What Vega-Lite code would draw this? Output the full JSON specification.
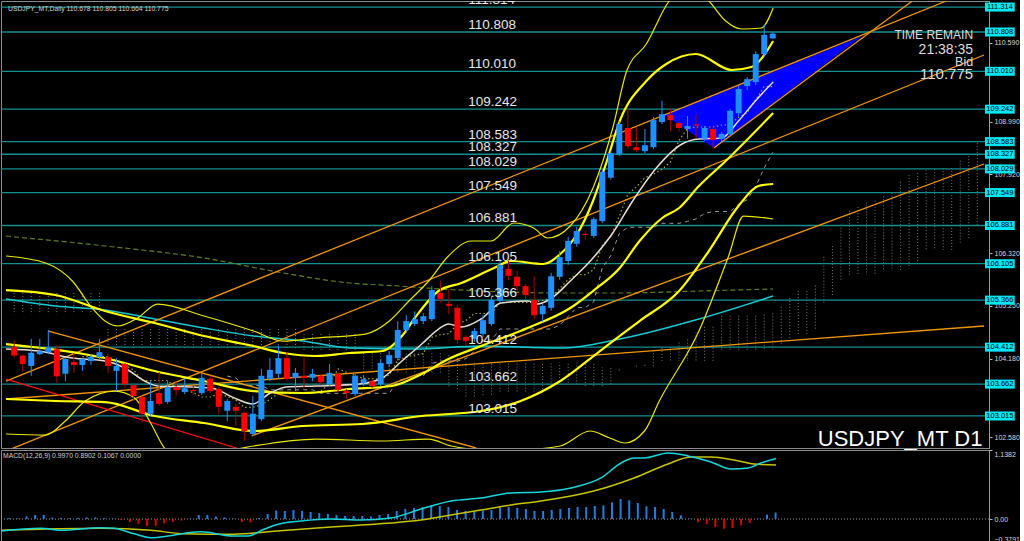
{
"$schema": "https://vega.github.io/schema/vega-lite/v6.json",
"background": "#000000",
"padding": 0,
"spacing": 2,
"bounds": "flush",
"config": {
  "view": {"stroke": "#8c8c8c", "strokeWidth": 1},
  "axis": {"grid": false, "labelFont": "Liberation Sans", "labelFontSize": 7, "labelColor": "#d8d8d8", "tickColor": "#bbbbbb", "domainColor": "#9a9a9a", "tickSize": 3, "labelPadding": 2},
  "text": {"font": "Liberation Sans"}
},
"datasets": {
  "levels": [{"p":111.314},{"p":110.808},{"p":110.010},{"p":109.242},{"p":108.583},{"p":108.327},{"p":108.029},{"p":107.549},{"p":106.881},{"p":106.105},{"p":105.366},{"p":104.412},{"p":103.662},{"p":103.015}],
  "candles": [
{"i":0,"o":104.42,"h":104.55,"l":104.20,"c":104.24},
{"i":1,"o":104.24,"h":104.27,"l":103.91,"c":104.07},
{"i":2,"o":104.03,"h":104.58,"l":103.83,"c":104.30},
{"i":3,"o":104.27,"h":104.58,"l":104.25,"c":104.33},
{"i":4,"o":104.31,"h":104.76,"l":104.27,"c":104.40},
{"i":5,"o":104.37,"h":104.45,"l":103.68,"c":103.82},
{"i":6,"o":103.87,"h":104.20,"l":103.72,"c":104.17},
{"i":7,"o":104.11,"h":104.29,"l":103.89,"c":104.05},
{"i":8,"o":104.05,"h":104.19,"l":103.93,"c":104.17},
{"i":9,"o":104.13,"h":104.27,"l":104.05,"c":104.21},
{"i":10,"o":104.21,"h":104.58,"l":104.17,"c":104.31},
{"i":11,"o":104.21,"h":104.28,"l":103.89,"c":104.03},
{"i":12,"o":103.93,"h":104.19,"l":103.52,"c":104.03},
{"i":13,"o":104.07,"h":104.09,"l":103.58,"c":103.66},
{"i":14,"o":103.64,"h":103.66,"l":103.32,"c":103.42},
{"i":15,"o":103.40,"h":103.42,"l":102.89,"c":103.06},
{"i":16,"o":103.06,"h":103.72,"l":103.02,"c":103.32},
{"i":17,"o":103.48,"h":103.91,"l":103.22,"c":103.26},
{"i":18,"o":103.30,"h":103.72,"l":103.26,"c":103.60},
{"i":19,"o":103.60,"h":103.72,"l":103.42,"c":103.54},
{"i":20,"o":103.50,"h":103.78,"l":103.46,"c":103.58},
{"i":21,"o":103.54,"h":103.62,"l":103.44,"c":103.52},
{"i":22,"o":103.48,"h":103.87,"l":103.44,"c":103.79},
{"i":23,"o":103.77,"h":103.83,"l":103.48,"c":103.52},
{"i":24,"o":103.56,"h":103.60,"l":103.06,"c":103.20},
{"i":25,"o":103.12,"h":103.36,"l":102.91,"c":103.32},
{"i":26,"o":103.20,"h":103.26,"l":102.81,"c":103.12},
{"i":27,"o":103.08,"h":103.10,"l":102.51,"c":102.71},
{"i":28,"o":102.65,"h":103.42,"l":102.61,"c":103.06},
{"i":29,"o":102.95,"h":103.97,"l":102.91,"c":103.83},
{"i":30,"o":103.77,"h":104.19,"l":103.72,"c":103.95},
{"i":31,"o":103.87,"h":104.44,"l":103.78,"c":104.19},
{"i":32,"o":104.19,"h":104.31,"l":103.72,"c":103.77},
{"i":33,"o":103.79,"h":103.99,"l":103.52,"c":103.89},
{"i":34,"o":103.83,"h":104.19,"l":103.56,"c":103.79},
{"i":35,"o":103.79,"h":103.97,"l":103.72,"c":103.87},
{"i":36,"o":103.83,"h":103.87,"l":103.64,"c":103.70},
{"i":37,"o":103.66,"h":104.07,"l":103.62,"c":103.89},
{"i":38,"o":103.87,"h":103.91,"l":103.50,"c":103.54},
{"i":39,"o":103.52,"h":103.56,"l":103.36,"c":103.48},
{"i":40,"o":103.46,"h":103.87,"l":103.42,"c":103.83},
{"i":41,"o":103.68,"h":103.85,"l":103.62,"c":103.76},
{"i":42,"o":103.72,"h":103.78,"l":103.58,"c":103.62},
{"i":43,"o":103.66,"h":104.17,"l":103.62,"c":104.09},
{"i":44,"o":104.07,"h":104.33,"l":104.01,"c":104.25},
{"i":45,"o":104.19,"h":104.94,"l":104.15,"c":104.76},
{"i":46,"o":104.76,"h":105.06,"l":104.70,"c":104.94},
{"i":47,"o":104.88,"h":105.14,"l":104.84,"c":104.98},
{"i":48,"o":104.94,"h":105.10,"l":104.88,"c":105.04},
{"i":49,"o":104.98,"h":105.65,"l":104.94,"c":105.57},
{"i":50,"o":105.51,"h":105.75,"l":105.31,"c":105.39},
{"i":51,"o":105.29,"h":105.59,"l":105.08,"c":105.25},
{"i":52,"o":105.21,"h":105.27,"l":104.48,"c":104.56},
{"i":53,"o":104.62,"h":104.66,"l":104.44,"c":104.54},
{"i":54,"o":104.58,"h":104.80,"l":104.52,"c":104.74},
{"i":55,"o":104.68,"h":105.06,"l":104.62,"c":104.96},
{"i":56,"o":104.88,"h":105.45,"l":104.84,"c":105.37},
{"i":57,"o":105.35,"h":106.20,"l":105.31,"c":106.08},
{"i":58,"o":106.00,"h":106.16,"l":105.78,"c":105.86},
{"i":59,"o":105.84,"h":105.96,"l":105.55,"c":105.65},
{"i":60,"o":105.65,"h":105.69,"l":105.39,"c":105.47},
{"i":61,"o":105.37,"h":105.84,"l":104.98,"c":105.06},
{"i":62,"o":105.08,"h":105.29,"l":104.92,"c":105.25},
{"i":63,"o":105.21,"h":105.92,"l":105.15,"c":105.85},
{"i":64,"o":105.84,"h":106.36,"l":105.78,"c":106.24},
{"i":65,"o":106.16,"h":106.65,"l":106.08,"c":106.57},
{"i":66,"o":106.51,"h":106.85,"l":106.45,"c":106.77},
{"i":67,"o":106.71,"h":106.77,"l":106.59,"c":106.69},
{"i":68,"o":106.67,"h":107.05,"l":106.63,"c":107.01},
{"i":69,"o":106.97,"h":108.03,"l":106.93,"c":107.97},
{"i":70,"o":107.85,"h":108.39,"l":107.81,"c":108.35},
{"i":71,"o":108.33,"h":109.00,"l":108.29,"c":108.94},
{"i":72,"o":108.86,"h":109.25,"l":108.43,"c":108.49},
{"i":73,"o":108.47,"h":108.88,"l":108.37,"c":108.41},
{"i":74,"o":108.39,"h":108.84,"l":108.35,"c":108.51},
{"i":75,"o":108.47,"h":109.08,"l":108.43,"c":109.02},
{"i":76,"o":108.98,"h":109.41,"l":108.94,"c":109.14},
{"i":77,"o":109.12,"h":109.26,"l":108.80,"c":109.02},
{"i":78,"o":108.96,"h":109.00,"l":108.78,"c":108.86},
{"i":79,"o":108.84,"h":109.10,"l":108.64,"c":108.90},
{"i":80,"o":108.93,"h":109.14,"l":108.66,"c":108.91},
{"i":81,"o":108.64,"h":108.90,"l":108.60,"c":108.86},
{"i":82,"o":108.84,"h":108.88,"l":108.45,"c":108.62},
{"i":83,"o":108.64,"h":108.78,"l":108.58,"c":108.74},
{"i":84,"o":108.74,"h":109.25,"l":108.70,"c":109.21},
{"i":85,"o":109.16,"h":109.71,"l":109.10,"c":109.65},
{"i":86,"o":109.71,"h":109.89,"l":109.63,"c":109.85},
{"i":87,"o":109.79,"h":110.42,"l":109.73,"c":110.36},
{"i":88,"o":110.36,"h":110.95,"l":110.30,"c":110.75},
{"i":89,"o":110.678,"h":110.805,"l":110.664,"c":110.775}
  ],
  "cloud": [
{"i":0,"a":105.51,"b":105.08},{"i":1,"a":105.51,"b":105.08},{"i":2,"a":105.51,"b":105.08},{"i":3,"a":105.51,"b":105.08},{"i":4,"a":105.51,"b":105.08},{"i":5,"a":105.51,"b":105.08},{"i":6,"a":105.51,"b":105.08},{"i":7,"a":105.51,"b":105.08},{"i":8,"a":105.51,"b":105.08},{"i":9,"a":105.51,"b":105.08},{"i":10,"a":105.51,"b":105.08},
{"i":11,"a":104.78,"b":104.39},{"i":12,"a":104.78,"b":104.39},{"i":13,"a":104.78,"b":104.39},{"i":14,"a":104.78,"b":104.39},{"i":15,"a":104.78,"b":104.39},{"i":16,"a":104.78,"b":104.39},{"i":17,"a":104.78,"b":104.39},{"i":18,"a":104.78,"b":104.39},{"i":19,"a":104.78,"b":104.39},{"i":20,"a":104.78,"b":104.39},{"i":21,"a":104.78,"b":104.39},{"i":22,"a":104.78,"b":104.39},{"i":23,"a":104.78,"b":104.39},{"i":24,"a":104.78,"b":104.39},{"i":25,"a":104.78,"b":104.39},{"i":26,"a":104.78,"b":104.39},{"i":27,"a":104.78,"b":104.39},{"i":28,"a":104.78,"b":104.39},{"i":29,"a":104.78,"b":104.39},{"i":30,"a":104.78,"b":104.39},{"i":31,"a":104.78,"b":104.39},{"i":32,"a":104.78,"b":104.39},{"i":33,"a":104.78,"b":104.39},
{"i":34,"a":104.68,"b":104.33},{"i":35,"a":104.68,"b":104.33},{"i":36,"a":104.68,"b":104.33},{"i":37,"a":104.68,"b":104.33},{"i":38,"a":104.68,"b":104.33},{"i":39,"a":104.68,"b":104.33},{"i":40,"a":104.68,"b":104.33},
{"i":41,"a":103.9,"b":104.285},{"i":42,"a":103.9,"b":104.285},{"i":43,"a":103.9,"b":104.285},{"i":44,"a":103.9,"b":104.285},{"i":45,"a":103.9,"b":104.285},{"i":46,"a":103.9,"b":104.285},{"i":47,"a":103.9,"b":104.285},{"i":48,"a":103.9,"b":104.285},{"i":49,"a":103.9,"b":104.285},{"i":50,"a":103.9,"b":104.285},
{"i":51,"a":103.6175,"b":104.285},{"i":52,"a":103.5625,"b":104.245},{"i":53,"a":103.4125,"b":104.095},{"i":54,"a":103.4125,"b":104.095},{"i":55,"a":103.4375,"b":104.095},{"i":56,"a":103.4475,"b":104.095},{"i":57,"a":103.51,"b":104.095},{"i":58,"a":103.51,"b":104.095},{"i":59,"a":103.51,"b":104.095},{"i":60,"a":103.51,"b":104.095},{"i":61,"a":103.51,"b":104.095},{"i":62,"a":103.50,"b":104.095},{"i":63,"a":103.575,"b":104.095},{"i":64,"a":103.7225,"b":104.095},{"i":65,"a":103.6875,"b":104.095},{"i":66,"a":103.655,"b":104.095},{"i":67,"a":103.625,"b":104.095},{"i":68,"a":103.625,"b":104.095},
{"i":69,"a":103.62,"b":104.0},{"i":70,"a":103.66,"b":104.0},{"i":71,"a":103.9375,"b":104.0},{"i":72,"a":103.9975,"b":104.0},{"i":73,"a":104.0375,"b":104.0},{"i":74,"a":104.0525,"b":104.0},{"i":75,"a":104.3475,"b":104.0},{"i":76,"a":104.3975,"b":104.13},{"i":77,"a":104.4075,"b":104.13},
{"i":78,"a":104.505,"b":104.13},{"i":79,"a":104.565,"b":104.13},{"i":80,"a":104.71,"b":104.13},{"i":81,"a":104.825,"b":104.13},{"i":82,"a":104.825,"b":104.13},{"i":83,"a":105.05,"b":104.355},{"i":84,"a":105.05,"b":104.355},{"i":85,"a":105.05,"b":104.355},{"i":86,"a":105.05,"b":104.355},{"i":87,"a":105.05,"b":104.355},{"i":88,"a":105.07,"b":104.355},{"i":89,"a":105.095,"b":104.355},{"i":90,"a":105.23,"b":104.435},{"i":91,"a":105.41,"b":104.58},{"i":92,"a":105.55,"b":104.68},{"i":93,"a":105.55,"b":104.68},{"i":94,"a":105.66,"b":104.78},{"i":95,"a":106.2475,"b":105.27},{"i":96,"a":106.4625,"b":105.45},{"i":97,"a":106.8975,"b":105.755},{"i":98,"a":107.18,"b":105.88},{"i":99,"a":107.255,"b":105.88},{"i":100,"a":107.3475,"b":105.88},{"i":101,"a":107.3825,"b":105.88},{"i":102,"a":107.4725,"b":105.96},{"i":103,"a":107.5475,"b":105.96},{"i":104,"a":107.7675,"b":105.96},{"i":105,"a":107.9075,"b":106.01},{"i":106,"a":107.9475,"b":106.16},{"i":107,"a":108.0025,"b":106.385},{"i":108,"a":108.0225,"b":106.385},{"i":109,"a":108.0425,"b":106.385},{"i":110,"a":108.0475,"b":106.385},{"i":111,"a":108.1975,"b":106.535},{"i":112,"a":108.2875,"b":106.625},{"i":113,"a":108.5525,"b":106.89}
  ],
  "tenkan": [{"i":8,"p":104.22},{"i":9,"p":104.22},{"i":10,"p":104.22},{"i":11,"p":104.22},{"i":12,"p":104.14},{"i":13,"p":104.05},{"i":14,"p":103.95},{"i":15,"p":103.735},{"i":16,"p":103.735},{"i":17,"p":103.735},{"i":18,"p":103.735},{"i":19,"p":103.585},{"i":20,"p":103.54},{"i":21,"p":103.49},{"i":22,"p":103.40},{"i":23,"p":103.40},{"i":24,"p":103.465},{"i":25,"p":103.41},{"i":26,"p":103.34},{"i":27,"p":103.19},{"i":28,"p":103.19},{"i":29,"p":103.24},{"i":30,"p":103.35},{"i":31,"p":103.475},{"i":32,"p":103.475},{"i":33,"p":103.475},{"i":34,"p":103.475},{"i":35,"p":103.475},{"i":36,"p":103.525},{"i":37,"p":103.675},{"i":38,"p":103.97},{"i":39,"p":103.90},{"i":40,"p":103.835},{"i":41,"p":103.775},{"i":42,"p":103.775},{"i":43,"p":103.765},{"i":44,"p":103.845},{"i":45,"p":104.15},{"i":46,"p":104.21},{"i":47,"p":104.25},{"i":48,"p":104.28},{"i":49,"p":104.615},{"i":50,"p":104.665},{"i":51,"p":104.685},{"i":52,"p":104.88},{"i":53,"p":104.95},{"i":54,"p":105.095},{"i":55,"p":105.095},{"i":56,"p":105.095},{"i":57,"p":105.32},{"i":58,"p":105.32},{"i":59,"p":105.32},{"i":60,"p":105.32},{"i":61,"p":105.32},{"i":62,"p":105.36},{"i":63,"p":105.41},{"i":64,"p":105.60},{"i":65,"p":105.785},{"i":66,"p":105.885},{"i":67,"p":105.885},{"i":68,"p":105.985},{"i":69,"p":106.475},{"i":70,"p":106.655},{"i":71,"p":107.075},{"i":72,"p":107.515},{"i":73,"p":107.665},{"i":74,"p":107.85},{"i":75,"p":107.92},{"i":76,"p":108.02},{"i":77,"p":108.17},{"i":78,"p":108.61},{"i":79,"p":108.85},{"i":80,"p":108.88},{"i":81,"p":108.88},{"i":82,"p":108.88},{"i":83,"p":108.92},{"i":84,"p":108.93},{"i":85,"p":109.08},{"i":86,"p":109.17},{"i":87,"p":109.435},{"i":88,"p":109.70},{"i":89,"p":109.70}],
  "kijun": [{"i":25,"p":103.825},{"i":26,"p":103.785},{"i":27,"p":103.635},{"i":28,"p":103.635},{"i":29,"p":103.635},{"i":30,"p":103.545},{"i":31,"p":103.545},{"i":32,"p":103.545},{"i":33,"p":103.545},{"i":34,"p":103.545},{"i":35,"p":103.545},{"i":36,"p":103.475},{"i":37,"p":103.475},{"i":38,"p":103.475},{"i":39,"p":103.475},{"i":40,"p":103.475},{"i":41,"p":103.475},{"i":42,"p":103.475},{"i":43,"p":103.475},{"i":44,"p":103.475},{"i":45,"p":103.725},{"i":46,"p":103.785},{"i":47,"p":103.825},{"i":48,"p":103.825},{"i":49,"p":104.08},{"i":50,"p":104.13},{"i":51,"p":104.13},{"i":52,"p":104.13},{"i":53,"p":104.18},{"i":54,"p":104.33},{"i":55,"p":104.555},{"i":56,"p":104.555},{"i":57,"p":104.78},{"i":58,"p":104.78},{"i":59,"p":104.78},{"i":60,"p":104.78},{"i":61,"p":104.78},{"i":62,"p":104.78},{"i":63,"p":104.78},{"i":64,"p":104.86},{"i":65,"p":105.035},{"i":66,"p":105.215},{"i":67,"p":105.215},{"i":68,"p":105.335},{"i":69,"p":106.02},{"i":70,"p":106.27},{"i":71,"p":106.72},{"i":72,"p":106.845},{"i":73,"p":106.845},{"i":74,"p":106.845},{"i":75,"p":106.845},{"i":76,"p":106.925},{"i":77,"p":106.925},{"i":78,"p":106.925},{"i":79,"p":106.965},{"i":80,"p":107.015},{"i":81,"p":107.125},{"i":82,"p":107.165},{"i":83,"p":107.165},{"i":84,"p":107.165},{"i":85,"p":107.315},{"i":86,"p":107.405},{"i":87,"p":107.67},{"i":88,"p":108.05},{"i":89,"p":108.365}],
  "bbMid": [{"i":-0.96,"p":104.475},{"i":10.65,"p":104.191},{"i":16.46,"p":103.927},{"i":22.27,"p":103.724},{"i":28.07,"p":103.521},{"i":33.88,"p":103.481},{"i":39.34,"p":103.562},{"i":44.33,"p":103.623},{"i":47.82,"p":103.866},{"i":50.95,"p":104.171},{"i":54.78,"p":104.435},{"i":60.24,"p":104.800},{"i":65.24,"p":105.206},{"i":67.91,"p":105.551},{"i":71.05,"p":106.018},{"i":73.37,"p":106.566},{"i":76.03,"p":107.033},{"i":78.01,"p":107.236},{"i":80.34,"p":107.682},{"i":83.48,"p":108.190},{"i":89.05,"p":109.164}],
  "bbUp2": [{"i":-0.96,"p":105.571},{"i":4.84,"p":105.470},{"i":10.65,"p":105.145},{"i":16.46,"p":104.902},{"i":22.27,"p":104.638},{"i":28.07,"p":104.435},{"i":31.56,"p":104.293},{"i":35.39,"p":104.232},{"i":39.34,"p":104.293},{"i":43.17,"p":104.333},{"i":45.49,"p":104.638},{"i":47.00,"p":105.003},{"i":49.79,"p":105.551},{"i":52.46,"p":105.714},{"i":56.29,"p":106.018},{"i":58.27,"p":106.160},{"i":62.10,"p":106.099},{"i":64.08,"p":106.302},{"i":66.05,"p":106.708},{"i":67.91,"p":107.378},{"i":69.54,"p":108.190},{"i":71.05,"p":109.002},{"i":74.17,"p":109.813},{"i":76.50,"p":110.158},{"i":79.99,"p":110.361},{"i":84.17,"p":110.037},{"i":86.49,"p":110.098},{"i":89.05,"p":110.625}],
  "bbLo2": [{"i":-0.96,"p":103.359},{"i":4.84,"p":103.319},{"i":10.65,"p":103.298},{"i":16.46,"p":103.014},{"i":22.27,"p":102.872},{"i":28.07,"p":102.710},{"i":33.88,"p":102.811},{"i":40.85,"p":102.852},{"i":47.82,"p":103.014},{"i":54.78,"p":103.116},{"i":59.43,"p":103.319},{"i":64.08,"p":103.724},{"i":68.72,"p":104.333},{"i":73.37,"p":104.942},{"i":78.01,"p":105.551},{"i":81.50,"p":106.363},{"i":84.98,"p":107.276},{"i":87.31,"p":107.682},{"i":89.05,"p":107.723}],
  "bbUp3": [{"i":-0.96,"p":106.262},{"i":3.68,"p":106.119},{"i":6.82,"p":105.754},{"i":9.14,"p":105.206},{"i":10.65,"p":104.942},{"i":12.16,"p":104.841},{"i":14.48,"p":105.003},{"i":16.81,"p":105.287},{"i":22.27,"p":105.044},{"i":28.07,"p":104.739},{"i":31.56,"p":104.536},{"i":35.39,"p":104.597},{"i":41.20,"p":104.678},{"i":44.02,"p":104.942},{"i":46.31,"p":105.348},{"i":48.63,"p":105.754},{"i":50.95,"p":106.262},{"i":53.62,"p":106.566},{"i":55.94,"p":106.566},{"i":58.62,"p":106.931},{"i":60.94,"p":106.830},{"i":62.57,"p":106.627},{"i":65.24,"p":106.871},{"i":67.91,"p":107.642},{"i":70.23,"p":108.859},{"i":71.86,"p":110.016},{"i":74.17,"p":110.564},{"i":76.85,"p":111.437},{"i":79.18,"p":111.741},{"i":81.50,"p":111.437},{"i":83.48,"p":111.031},{"i":85.33,"p":110.869},{"i":87.66,"p":110.889},{"i":89.05,"p":111.295}],
  "bbLo3": [{"i":-0.96,"p":102.649},{"i":3.68,"p":102.628},{"i":6.00,"p":102.913},{"i":8.33,"p":103.319},{"i":11.81,"p":103.521},{"i":14.13,"p":103.380},{"i":15.88,"p":102.913},{"i":17.62,"p":102.365},{"i":19.36,"p":102.101},{"i":22.27,"p":102.202},{"i":28.07,"p":102.405},{"i":35.39,"p":102.547},{"i":43.17,"p":102.507},{"i":48.63,"p":102.547},{"i":51.30,"p":102.405},{"i":57.11,"p":102.304},{"i":64.08,"p":102.405},{"i":67.56,"p":102.710},{"i":69.88,"p":102.568},{"i":71.63,"p":102.466},{"i":73.95,"p":102.710},{"i":75.69,"p":103.319},{"i":80.34,"p":104.739},{"i":83.82,"p":106.262},{"i":85.56,"p":107.073},{"i":89.05,"p":107.012}],
  "white": [{"i":-0.96,"p":104.374},{"i":2.87,"p":104.333},{"i":6.82,"p":104.191},{"i":10.65,"p":104.131},{"i":12.97,"p":103.988},{"i":15.30,"p":103.724},{"i":16.81,"p":103.623},{"i":20.76,"p":103.603},{"i":23.08,"p":103.582},{"i":26.10,"p":103.359},{"i":27.96,"p":103.258},{"i":30.05,"p":103.481},{"i":31.91,"p":103.603},{"i":35.39,"p":103.623},{"i":40.50,"p":103.663},{"i":43.17,"p":103.785},{"i":45.49,"p":104.131},{"i":47.82,"p":104.475},{"i":49.79,"p":104.780},{"i":50.95,"p":104.881},{"i":52.46,"p":104.820},{"i":54.78,"p":104.983},{"i":57.11,"p":105.308},{"i":60.24,"p":105.348},{"i":61.41,"p":105.287},{"i":62.91,"p":105.389},{"i":65.24,"p":105.754},{"i":67.91,"p":106.221},{"i":70.23,"p":106.728},{"i":72.56,"p":107.378},{"i":75.34,"p":108.048},{"i":78.36,"p":108.535},{"i":80.34,"p":108.636},{"i":83.01,"p":108.656},{"i":84.98,"p":109.002},{"i":86.96,"p":109.407},{"i":89.05,"p":109.793}],
  "cyanMA": [{"i":-0.96,"p":105.389},{"i":4.84,"p":105.247},{"i":10.65,"p":105.166},{"i":16.46,"p":104.983},{"i":22.27,"p":104.800},{"i":28.07,"p":104.638},{"i":33.88,"p":104.536},{"i":39.34,"p":104.394},{"i":47.00,"p":104.374},{"i":54.78,"p":104.435},{"i":64.08,"p":104.394},{"i":71.05,"p":104.577},{"i":80.34,"p":104.983},{"i":89.05,"p":105.450}],
  "greenMA": [{"i":-0.96,"p":106.667},{"i":10.65,"p":106.465},{"i":22.27,"p":106.221},{"i":31.56,"p":105.917},{"i":39.34,"p":105.714},{"i":45.15,"p":105.653},{"i":50.14,"p":105.592},{"i":54.78,"p":105.551},{"i":64.08,"p":105.511},{"i":71.05,"p":105.511},{"i":80.34,"p":105.551},{"i":89.05,"p":105.592}],
  "trend": [{"g":"a","i":-0.96,"p":103.724},{"g":"a","i":109.37,"p":111.437},{"g":"c","i":-0.96,"p":102.304},{"g":"c","i":113.79,"p":110.341},{"g":"d","i":27.84,"p":102.609},{"g":"d","i":113.79,"p":108.129},{"g":"e","i":-0.96,"p":103.359},{"g":"e","i":113.79,"p":104.841},{"g":"f","i":4.03,"p":104.739},{"g":"f","i":54.21,"p":102.365},{"g":"g","i":82.08,"p":108.453},{"g":"g","i":105.37,"p":111.437}],
  "redTrend": [{"i":-0.96,"p":103.765},{"i":26.10,"p":102.365}],
  "tri": [{"i":76.27,"p":109.123,"p2":109.123},{"i":82.08,"p":109.529,"p2":108.453},{"i":99.50,"p":110.727,"p2":110.727}],
  "zero": [{"v":0}],
  "macd": [{"i":-0.96,"v":-0.198},{"i":3.68,"v":-0.153},{"i":6.00,"v":-0.186},{"i":10.65,"v":-0.144},{"i":12.16,"v":-0.153},{"i":14.48,"v":-0.243},{"i":16.46,"v":-0.309},{"i":18.43,"v":-0.281},{"i":20.76,"v":-0.226},{"i":22.27,"v":-0.210},{"i":26.10,"v":-0.281},{"i":27.72,"v":-0.281},{"i":29.58,"v":-0.170},{"i":31.21,"v":-0.087},{"i":33.88,"v":-0.033},{"i":37.36,"v":0.0},{"i":40.85,"v":-0.017},{"i":44.33,"v":0.017},{"i":47.82,"v":0.165},{"i":51.30,"v":0.297},{"i":54.78,"v":0.347},{"i":58.27,"v":0.429},{"i":61.75,"v":0.446},{"i":65.24,"v":0.512},{"i":68.72,"v":0.677},{"i":71.05,"v":0.924},{"i":72.56,"v":1.007},{"i":73.72,"v":1.007},{"i":76.50,"v":1.089},{"i":78.83,"v":1.040},{"i":81.50,"v":0.941},{"i":83.82,"v":0.825},{"i":85.80,"v":0.842},{"i":87.31,"v":0.924},{"i":89.05,"v":0.997}],
  "signal": [{"i":-0.96,"v":-0.186},{"i":10.65,"v":-0.153},{"i":16.46,"v":-0.186},{"i":20.29,"v":-0.243},{"i":26.10,"v":-0.252},{"i":30.05,"v":-0.210},{"i":33.88,"v":-0.170},{"i":37.36,"v":-0.132},{"i":40.85,"v":-0.099},{"i":44.33,"v":-0.066},{"i":47.82,"v":-0.017},{"i":51.30,"v":0.066},{"i":54.78,"v":0.149},{"i":58.27,"v":0.231},{"i":61.75,"v":0.297},{"i":65.24,"v":0.380},{"i":68.72,"v":0.495},{"i":72.56,"v":0.677},{"i":76.50,"v":0.908},{"i":79.18,"v":1.023},{"i":81.50,"v":1.023},{"i":84.17,"v":0.974},{"i":86.49,"v":0.908},{"i":89.05,"v":0.890}],
  "hist": [{"i":0,"v":0.017},{"i":1,"v":0.008},{"i":2,"v":0.045},{"i":3,"v":0.066},{"i":4,"v":0.066},{"i":5,"v":0.025},{"i":6,"v":0.017},{"i":7,"v":0.013},{"i":8,"v":0.017},{"i":9,"v":0.025},{"i":10,"v":0.025},{"i":11,"v":0.017},{"i":12,"v":0.008},{"i":13,"v":-0.017},{"i":14,"v":-0.05},{"i":15,"v":-0.083},{"i":16,"v":-0.116},{"i":17,"v":-0.116},{"i":18,"v":-0.074},{"i":19,"v":-0.05},{"i":20,"v":-0.025},{"i":21,"v":0.008},{"i":22,"v":0.066},{"i":23,"v":0.066},{"i":24,"v":0.041},{"i":25,"v":0.025},{"i":26,"v":0.008},{"i":27,"v":-0.05},{"i":28,"v":-0.058},{"i":29,"v":0.017},{"i":30,"v":0.083},{"i":31,"v":0.14},{"i":32,"v":0.132},{"i":33,"v":0.149},{"i":34,"v":0.132},{"i":35,"v":0.116},{"i":36,"v":0.099},{"i":37,"v":0.083},{"i":38,"v":0.066},{"i":39,"v":0.05},{"i":40,"v":0.05},{"i":41,"v":0.05},{"i":42,"v":0.041},{"i":43,"v":0.066},{"i":44,"v":0.083},{"i":45,"v":0.132},{"i":46,"v":0.165},{"i":47,"v":0.182},{"i":48,"v":0.198},{"i":49,"v":0.231},{"i":50,"v":0.215},{"i":51,"v":0.198},{"i":52,"v":0.149},{"i":53,"v":0.132},{"i":54,"v":0.132},{"i":55,"v":0.132},{"i":56,"v":0.149},{"i":57,"v":0.198},{"i":58,"v":0.198},{"i":59,"v":0.182},{"i":60,"v":0.165},{"i":61,"v":0.132},{"i":62,"v":0.132},{"i":63,"v":0.149},{"i":64,"v":0.165},{"i":65,"v":0.182},{"i":66,"v":0.198},{"i":67,"v":0.198},{"i":68,"v":0.215},{"i":69,"v":0.226},{"i":70,"v":0.276},{"i":71,"v":0.330},{"i":72,"v":0.309},{"i":73,"v":0.264},{"i":74,"v":0.210},{"i":75,"v":0.198},{"i":76,"v":0.165},{"i":77,"v":0.116},{"i":78,"v":0.061},{"i":79,"v":0.008},{"i":80,"v":-0.05},{"i":81,"v":-0.083},{"i":82,"v":-0.132},{"i":83,"v":-0.160},{"i":84,"v":-0.149},{"i":85,"v":-0.104},{"i":86,"v":-0.066},{"i":87,"v":0.008},{"i":88,"v":0.071},{"i":89,"v":0.1067}]
},
"vconcat": [
{
  "width": 988, "height": 447,
  "layer": [
    {"data": {"name": "cloud"}, "mark": {"type": "rule", "color": "#7a7a7a", "strokeWidth": 1, "strokeDash": [1, 2], "clip": true},
     "encoding": {"x": {"field": "i", "type": "quantitative", "title": null, "scale": {"domain": [-0.964, 113.786], "nice": false, "zero": false}, "axis": null},
       "y": {"field": "a", "type": "quantitative", "title": null, "scale": {"domain": [102.365, 111.437], "nice": false, "zero": false},
         "axis": {"orient": "right", "title": null, "values": [111.12,110.59,109.52,108.99,108.45,107.92,107.39,106.32,105.78,105.25,104.72,104.18,103.11,102.58], "format": ".3f", "labelColor": "#d8d8d8", "labelFontSize": 7}},
       "y2": {"field": "b"}}},
    {"data": {"name": "levels"}, "mark": {"type": "rule", "color": "#138f8f", "strokeWidth": 1.3, "clip": true},
     "encoding": {"y": {"field": "p", "type": "quantitative", "title": null}}},
    {"data": {"name": "tri"}, "mark": {"type": "area", "color": "#0000ff", "opacity": 1, "clip": true},
     "encoding": {"x": {"field": "i", "type": "quantitative", "title": null}, "y": {"field": "p", "type": "quantitative", "title": null}, "y2": {"field": "p2"}}},
    {"data": {"name": "greenMA"}, "mark": {"type": "line", "color": "#5f7f1f", "strokeWidth": 1.2, "strokeDash": [5, 3], "interpolate": "monotone", "clip": true},
     "encoding": {"x": {"field": "i", "type": "quantitative", "title": null}, "y": {"field": "p", "type": "quantitative", "title": null}}},
    {"data": {"name": "kijun"}, "mark": {"type": "line", "color": "#9a9a9a", "strokeWidth": 1, "strokeDash": [4, 4], "clip": true},
     "encoding": {"x": {"field": "i", "type": "quantitative", "title": null}, "y": {"field": "p", "type": "quantitative", "title": null}}},
    {"data": {"name": "tenkan"}, "mark": {"type": "line", "color": "#a8a830", "strokeWidth": 1.2, "strokeDash": [1.5, 2.5], "clip": true},
     "encoding": {"x": {"field": "i", "type": "quantitative", "title": null}, "y": {"field": "p", "type": "quantitative", "title": null}}},
    {"data": {"name": "cyanMA"}, "mark": {"type": "line", "color": "#19c8d2", "strokeWidth": 1.5, "interpolate": "monotone", "clip": true},
     "encoding": {"x": {"field": "i", "type": "quantitative", "title": null}, "y": {"field": "p", "type": "quantitative", "title": null}}},
    {"data": {"name": "trend"}, "mark": {"type": "line", "color": "#f0960a", "strokeWidth": 1.3, "clip": true},
     "encoding": {"x": {"field": "i", "type": "quantitative", "title": null}, "y": {"field": "p", "type": "quantitative", "title": null}, "detail": {"field": "g"}}},
    {"data": {"name": "redTrend"}, "mark": {"type": "line", "color": "#ff1010", "strokeWidth": 1.3, "clip": true},
     "encoding": {"x": {"field": "i", "type": "quantitative", "title": null}, "y": {"field": "p", "type": "quantitative", "title": null}}},
    {"data": {"name": "bbUp3"}, "mark": {"type": "line", "color": "#e8e800", "strokeWidth": 1.2, "interpolate": "monotone", "clip": true},
     "encoding": {"x": {"field": "i", "type": "quantitative", "title": null}, "y": {"field": "p", "type": "quantitative", "title": null}}},
    {"data": {"name": "bbLo3"}, "mark": {"type": "line", "color": "#e8e800", "strokeWidth": 1.2, "interpolate": "monotone", "clip": true},
     "encoding": {"x": {"field": "i", "type": "quantitative", "title": null}, "y": {"field": "p", "type": "quantitative", "title": null}}},
    {"data": {"name": "bbUp2"}, "mark": {"type": "line", "color": "#ffff00", "strokeWidth": 2.2, "interpolate": "monotone", "clip": true},
     "encoding": {"x": {"field": "i", "type": "quantitative", "title": null}, "y": {"field": "p", "type": "quantitative", "title": null}}},
    {"data": {"name": "bbLo2"}, "mark": {"type": "line", "color": "#ffff00", "strokeWidth": 2.2, "interpolate": "monotone", "clip": true},
     "encoding": {"x": {"field": "i", "type": "quantitative", "title": null}, "y": {"field": "p", "type": "quantitative", "title": null}}},
    {"data": {"name": "bbMid"}, "mark": {"type": "line", "color": "#ffff00", "strokeWidth": 2.2, "interpolate": "monotone", "clip": true},
     "encoding": {"x": {"field": "i", "type": "quantitative", "title": null}, "y": {"field": "p", "type": "quantitative", "title": null}}},
    {"data": {"name": "white"}, "mark": {"type": "line", "color": "#e6ddd2", "strokeWidth": 1.5, "interpolate": "monotone", "clip": true},
     "encoding": {"x": {"field": "i", "type": "quantitative", "title": null}, "y": {"field": "p", "type": "quantitative", "title": null}}},
    {"data": {"name": "candles"}, "mark": {"type": "rule", "strokeWidth": 1, "clip": true},
     "encoding": {"x": {"field": "i", "type": "quantitative", "title": null}, "y": {"field": "l", "type": "quantitative", "title": null}, "y2": {"field": "h"},
       "color": {"condition": {"test": "datum.c >= datum.o", "value": "#1e90ff"}, "value": "#b00000"}}},
    {"data": {"name": "candles"}, "mark": {"type": "bar", "width": 6, "clip": true},
     "encoding": {"x": {"field": "i", "type": "quantitative", "title": null}, "y": {"field": "o", "type": "quantitative", "title": null}, "y2": {"field": "c"},
       "color": {"condition": {"test": "datum.c >= datum.o", "value": "#1e90ff"}, "value": "#ff0000"}}},
    {"data": {"name": "levels"}, "mark": {"type": "text", "color": "#e8e8e8", "fontSize": 13.5, "align": "left", "baseline": "alphabetic", "dy": -3, "clip": true},
     "encoding": {"x": {"datum": 53.27, "type": "quantitative"}, "y": {"field": "p", "type": "quantitative", "title": null}, "text": {"field": "p", "format": ".3f"}}},
    {"data": {"name": "levels"}, "mark": {"type": "rect", "color": "#00e8f4", "yOffset": 4.5, "y2Offset": -4.5},
     "encoding": {"x": {"datum": 113.9, "type": "quantitative"}, "x2": {"datum": 117.39}, "y": {"field": "p", "type": "quantitative", "title": null}, "y2": {"field": "p"}}},
    {"data": {"name": "levels"}, "mark": {"type": "text", "color": "#000000", "fontSize": 7.5, "align": "center", "baseline": "middle"},
     "encoding": {"x": {"datum": 115.65, "type": "quantitative"}, "y": {"field": "p", "type": "quantitative", "title": null}, "text": {"field": "p", "format": ".3f"}}},
    {"data": {"values": [{"t": "USDJPY_MT,Daily  110.678 110.805 110.664 110.775"}]}, "mark": {"type": "text", "color": "#d0d0d0", "fontSize": 6.8, "align": "left", "baseline": "alphabetic"},
     "encoding": {"x": {"datum": -0.73, "type": "quantitative"}, "y": {"datum": 111.244, "type": "quantitative"}, "text": {"field": "t"}}},
    {"data": {"values": [{"t": "TIME REMAIN"}]}, "mark": {"type": "text", "color": "#dcdcdc", "fontSize": 12, "align": "right", "baseline": "alphabetic"},
     "encoding": {"x": {"datum": 112.51, "type": "quantitative"}, "y": {"datum": 110.660, "type": "quantitative"}, "text": {"field": "t"}}},
    {"data": {"values": [{"t": "21:38:35"}]}, "mark": {"type": "text", "color": "#dcdcdc", "fontSize": 14, "align": "right", "baseline": "alphabetic"},
     "encoding": {"x": {"datum": 112.51, "type": "quantitative"}, "y": {"datum": 110.371, "type": "quantitative"}, "text": {"field": "t"}}},
    {"data": {"values": [{"t": "Bid"}]}, "mark": {"type": "text", "color": "#dcdcdc", "fontSize": 12.5, "align": "right", "baseline": "alphabetic"},
     "encoding": {"x": {"datum": 112.51, "type": "quantitative"}, "y": {"datum": 110.118, "type": "quantitative"}, "text": {"field": "t"}}},
    {"data": {"values": [{"t": "110.775"}]}, "mark": {"type": "text", "color": "#dcdcdc", "fontSize": 15, "align": "right", "baseline": "alphabetic"},
     "encoding": {"x": {"datum": 112.51, "type": "quantitative"}, "y": {"datum": 109.854, "type": "quantitative"}, "text": {"field": "t"}}},
    {"data": {"values": [{"t": "USDJPY_MT D1"}]}, "mark": {"type": "text", "color": "#ffffff", "fontSize": 22, "align": "right", "baseline": "alphabetic"},
     "encoding": {"x": {"datum": 113.6, "type": "quantitative"}, "y": {"datum": 102.405, "type": "quantitative"}, "text": {"field": "t"}}}
  ]
},
{
  "width": 988, "height": 92,
  "layer": [
    {"data": {"name": "zero"}, "mark": {"type": "rule", "color": "#9a9a9a", "strokeDash": [1, 2], "clip": true},
     "encoding": {"y": {"field": "v", "type": "quantitative", "title": null, "scale": {"domain": [-0.3791, 1.1382], "nice": false, "zero": false},
       "axis": {"orient": "right", "title": null, "values": [1.1382, 0, -0.3791], "labelFlush": true, "labelColor": "#d8d8d8", "labelFontSize": 7, "labelExpr": "datum.value == 0 ? '0.00' : format(datum.value, '.4f')"}}}},
    {"data": {"name": "hist"}, "mark": {"type": "rule", "strokeWidth": 2, "clip": true},
     "encoding": {"x": {"field": "i", "type": "quantitative", "title": null, "scale": {"domain": [-0.964, 113.786], "nice": false, "zero": false}, "axis": null}, "y": {"field": "v", "type": "quantitative", "title": null}, "y2": {"datum": 0},
       "color": {"condition": {"test": "datum.v >= 0", "value": "#1f7fe0"}, "value": "#e00000"}}},
    {"data": {"name": "signal"}, "mark": {"type": "line", "color": "#c8c400", "strokeWidth": 1.5, "interpolate": "monotone", "clip": true},
     "encoding": {"x": {"field": "i", "type": "quantitative", "title": null}, "y": {"field": "v", "type": "quantitative", "title": null}}},
    {"data": {"name": "macd"}, "mark": {"type": "line", "color": "#16d6dc", "strokeWidth": 1.5, "interpolate": "monotone", "clip": true},
     "encoding": {"x": {"field": "i", "type": "quantitative", "title": null}, "y": {"field": "v", "type": "quantitative", "title": null}}},
    {"data": {"values": [{"t": "MACD(12,26,9) 0.9970 0.8902 0.1067 0.0000"}]}, "mark": {"type": "text", "color": "#d0d0d0", "fontSize": 6.8, "align": "left", "baseline": "alphabetic"},
     "encoding": {"x": {"datum": -0.73, "type": "quantitative"}, "y": {"datum": 1.006, "type": "quantitative"}, "text": {"field": "t"}}}
  ]
}
]
}
